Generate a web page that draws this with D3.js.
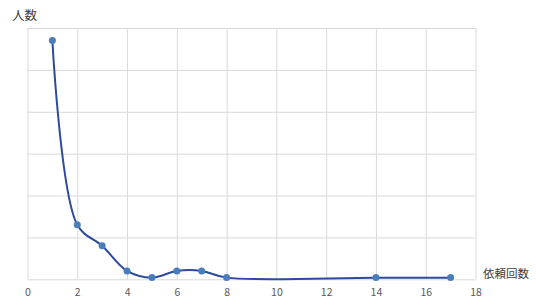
<!DOCTYPE html>
<html><head><meta charset="utf-8">
<script src="https://cdn.jsdelivr.net/npm/d3@7"></script>
<style>body{margin:0;background:#fff;}svg{display:block;}</style>
</head><body>
<svg id="c" width="536" height="307"></svg>
<script>
const requestCounts = [1, 2, 3, 4, 5, 6, 7, 8, 14, 17];
const people = [285, 65, 40, 10, 2, 10, 10, 2, 2, 2];
const xTicks = [0, 2, 4, 6, 8, 10, 12, 14, 16, 18];
const yGrid = [0, 50, 100, 150, 200, 250, 300];
const xTitle = "依頼回数";
const yTitle = "人数";

(function () {
const svg = d3.select("#c");
const mLeft = 27.5, mRight = 475.5, mTop = 28, mBottom = 279.3;
const x = d3.scaleLinear().domain([0, 18]).range([mLeft, mRight]);
const y = d3.scaleLinear().domain([0, 300]).range([mBottom, mTop]);
const font = "'Noto Sans CJK JP', 'Noto Sans', sans-serif";

// vertical gridlines
svg.append("g").attr("transform", `translate(0,${mTop})`)
  .call(d3.axisBottom(x).tickValues(xTicks).tickSize(mBottom - mTop).tickFormat(""))
  .call(g => g.select(".domain").remove())
  .call(g => g.selectAll("line").attr("stroke", "#d9d9d9").attr("stroke-width", 1));
// horizontal gridlines
svg.append("g").attr("transform", `translate(${mLeft},0)`)
  .call(d3.axisRight(y).tickValues(yGrid).tickSize(mRight - mLeft).tickFormat(""))
  .call(g => g.select(".domain").remove())
  .call(g => g.selectAll("line").attr("stroke", "#d9d9d9").attr("stroke-width", 1));

// x tick labels
svg.append("g").attr("transform", `translate(0,${mBottom})`)
  .call(d3.axisBottom(x).tickValues(xTicks).tickSize(0).tickPadding(9))
  .call(g => g.select(".domain").remove())
  .call(g => g.selectAll("text").attr("fill", "#595959").attr("font-size", 10.5).attr("font-family", font));

const data = requestCounts.map((d, i) => ({x: d, y: people[i]}));
svg.append("path").datum(data)
  .attr("fill", "none").attr("stroke", "#2E4A9E").attr("stroke-width", 2)
  .attr("d", d3.line().x(d => x(d.x)).y(d => y(d.y)).curve(d3.curveCatmullRom.alpha(0.5)));

svg.append("g").selectAll("circle").data(data).join("circle")
  .attr("cx", d => x(d.x)).attr("cy", d => y(d.y)).attr("r", 3.5)
  .attr("fill", "#4A7EBB");

svg.append("text").attr("x", 12).attr("y", 20).text(yTitle)
  .attr("font-size", 12.5).attr("fill", "#404040").attr("font-family", font);
svg.append("text").attr("x", 483).attr("y", 278).text(xTitle)
  .attr("font-size", 11.5).attr("fill", "#404040").attr("font-family", font);
})();
</script>
</body></html>
